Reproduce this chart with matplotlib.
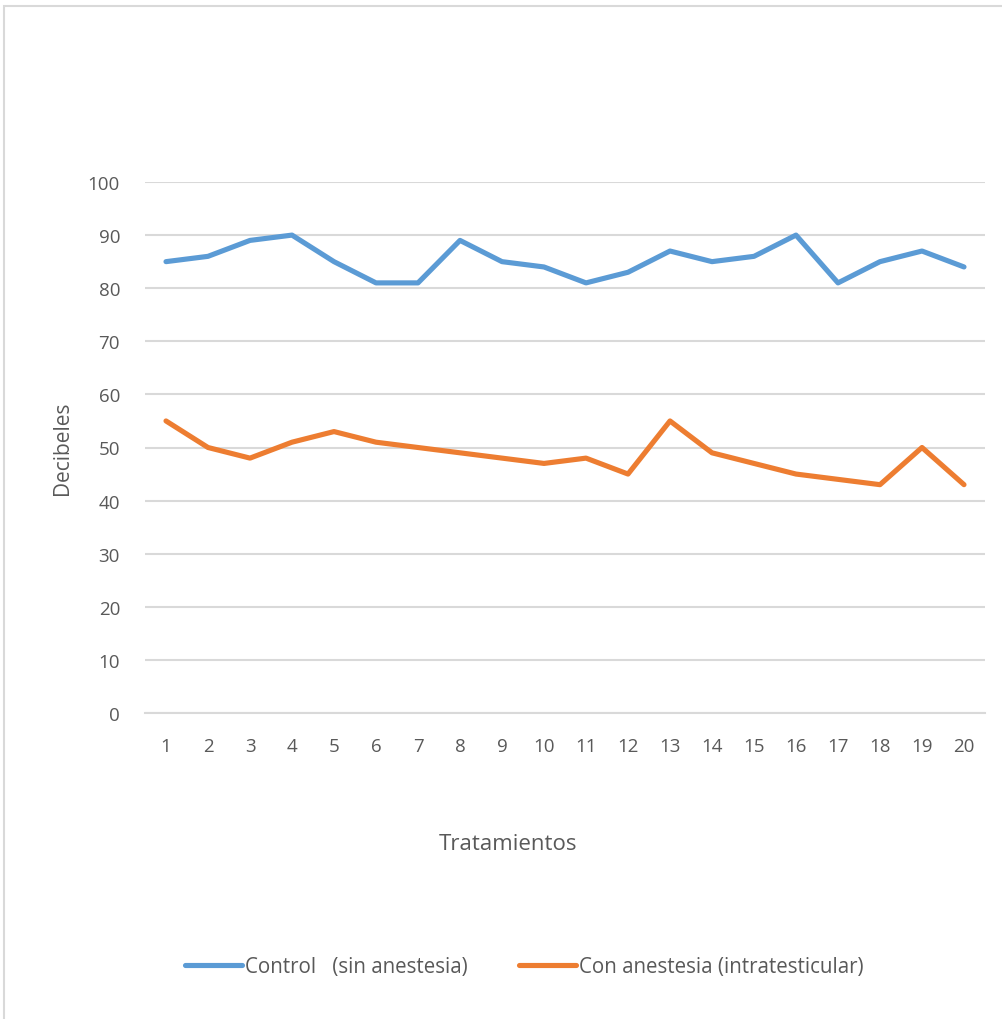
import matplotlib
matplotlib.use("Agg")
import matplotlib.pyplot as plt
from matplotlib.patches import Rectangle

plt.rcParams['font.family'] = ['Open Sans', 'DejaVu Sans']

tratamientos = list(range(1, 21))
control = [85, 86, 89, 90, 85, 81, 81, 89, 85, 84, 81, 83, 87, 85, 86, 90, 81, 85, 87, 84]
con_anestesia = [55, 50, 48, 51, 53, 51, 50, 49, 48, 47, 48, 45, 55, 49, 47, 45, 44, 43, 50, 43]
y_ticks = [0, 10, 20, 30, 40, 50, 60, 70, 80, 90, 100]

text_gray = '#595959'
grid_gray = '#D9D9D9'

fig = plt.figure(figsize=(10.02, 10.2), dpi=100)
fig.patch.set_facecolor('white')

# chart area frame (only top and left edges fall inside the canvas)
fig.patches.append(Rectangle((4 / 1002, -0.05), 1.2, 1 - 7 / 1020 + 0.05,
                             transform=fig.transFigure, fill=False,
                             edgecolor=grid_gray, linewidth=1.5))

ax = fig.add_axes([145 / 1002, 1 - 714 / 1020, 840 / 1002, 531 / 1020])
ax.plot(tratamientos, control, color='#5B9BD5', linewidth=3.7,
        solid_capstyle='round', solid_joinstyle='round',
        label='Control   (sin anestesia)', zorder=3)
ax.plot(tratamientos, con_anestesia, color='#ED7D31', linewidth=3.7,
        solid_capstyle='round', solid_joinstyle='round',
        label='Con anestesia (intratesticular)', zorder=3)

ax.set_xlim(0.5, 20.5)
ax.set_ylim(0, 100)
ax.set_yticks(y_ticks)
ax.set_xticks(tratamientos)
ax.grid(axis='y', color=grid_gray, linewidth=1.5)
ax.set_axisbelow(True)
for side in ['top', 'right', 'left']:
    ax.spines[side].set_visible(False)
ax.spines['bottom'].set_color(grid_gray)
ax.spines['bottom'].set_linewidth(1.5)
ax.tick_params(axis='both', length=0, labelsize=13.5, labelcolor=text_gray)
ax.tick_params(axis='y', pad=18)
ax.tick_params(axis='x', pad=17)

fig.text(63 / 1002, 1 - 448 / 1020, 'Decibeles', fontsize=15, color=text_gray,
         rotation=90, ha='center', va='center')
fig.text(508 / 1002, 1 - 845 / 1020, 'Tratamientos', fontsize=16,
         color=text_gray, ha='center', va='center')

leg = fig.legend(loc='center', bbox_to_anchor=(524 / 1002, 1 - 968 / 1020),
                 ncol=2, frameon=False, fontsize=14.8, handlelength=2.8,
                 handletextpad=0.12, columnspacing=2.5)
for t in leg.get_texts():
    t.set_color(text_gray)

fig.savefig('out.png', dpi=100, facecolor='white')
